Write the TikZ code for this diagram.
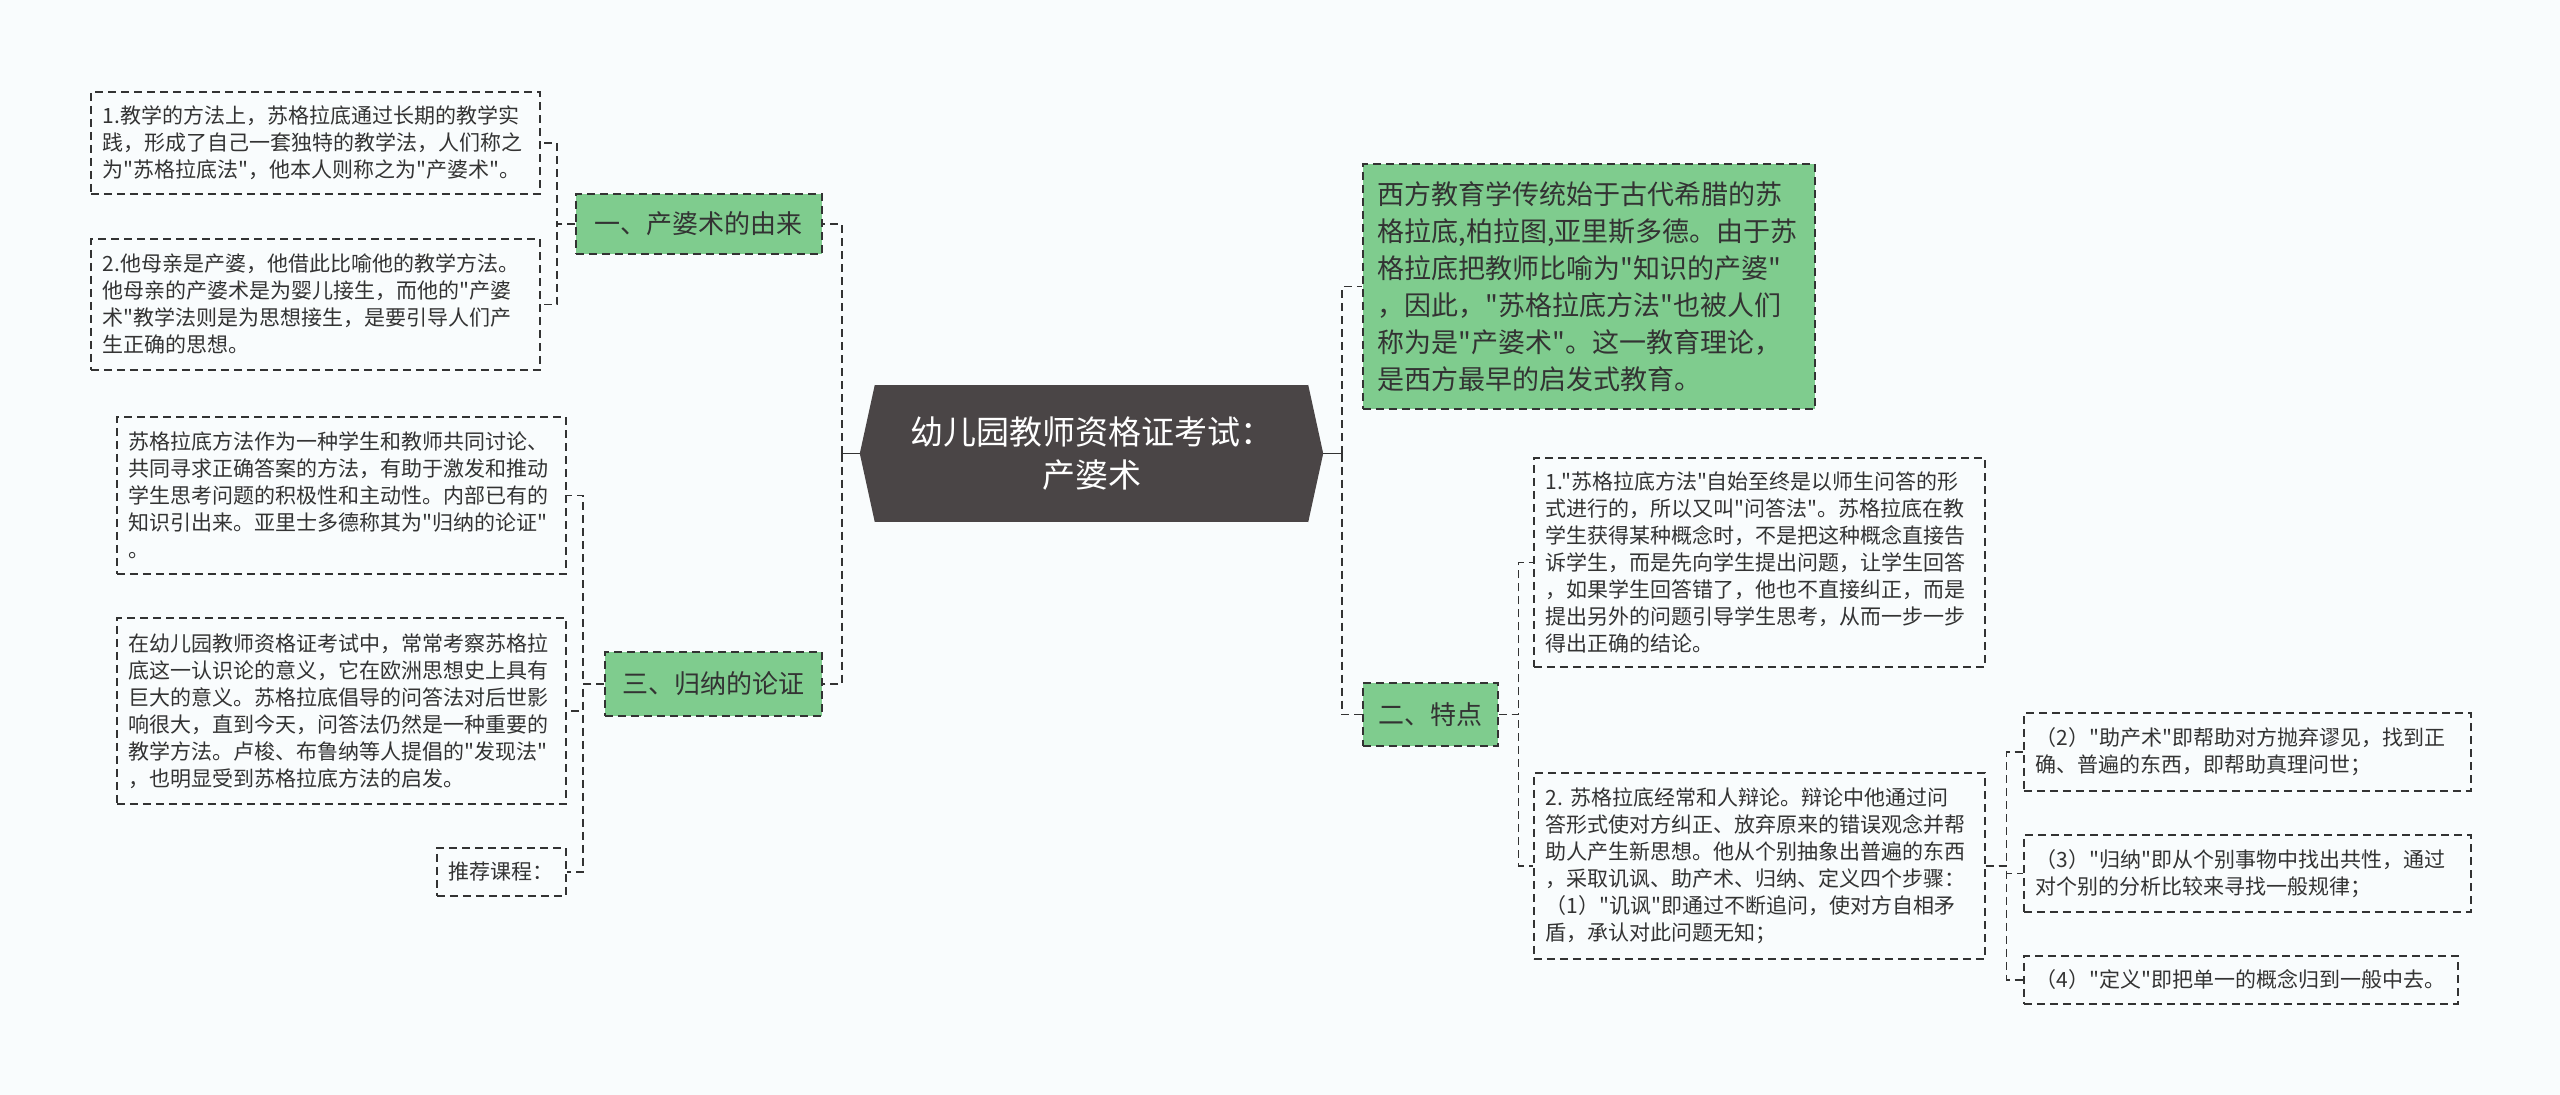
\documentclass[tikz,border=0pt]{standalone}
\usepackage{fontspec}
\setmainfont{Noto Sans CJK SC}[Ligatures=TeXOff]
\usetikzlibrary{positioning}
\definecolor{topicgreen}{RGB}{127,204,142}
\definecolor{rootgray}{RGB}{74,69,70}
\definecolor{inkgray}{RGB}{51,51,51}
\definecolor{paper}{RGB}{249,252,253}

\begin{document}
\begin{tikzpicture}[
    x=1pt, y=-1pt,
    leaf/.style={draw=inkgray, line width=1.6pt, dash pattern=on 8pt off 5pt,
                 anchor=north west, align=left, inner xsep=12pt, inner ysep=0pt,
                 text=inkgray, font=\fontsize{21pt}{27pt}\selectfont},
    topic/.style={leaf, fill=topicgreen, align=center,
                  font=\fontsize{26pt}{37pt}\selectfont},
    rootbox/.style={fill=rootgray, text=white, align=center, inner sep=0pt,
                    minimum width=433pt, minimum height=137pt,
                    font=\fontsize{33pt}{43pt}\selectfont},
    conn/.style={draw=inkgray, line width=1.6pt, dash pattern=on 8pt off 5pt},
    stub/.style={draw=inkgray, line width=1.6pt}
  ]
  \path[use as bounding box, fill=paper] (0,0) rectangle (2560,1095);

  % root
  \node[rootbox] (root) at (1091.5,453.5) {幼儿园教师资格证考试：\\产婆术};
  \coordinate (rootl) at ([xshift=-15pt]root.west);
  \coordinate (rootr) at ([xshift=15pt]root.east);
  \fill[rootgray] (root.north west) -- (rootl) -- (root.south west) -- cycle;
  \fill[rootgray] (root.north east) -- (rootr) -- (root.south east) -- cycle;

  % left side
  \node[topic, minimum width=246pt, minimum height=60pt] (origin) at (575,193) {一、产婆术的由来};
  \node[topic, minimum width=217pt, minimum height=64pt] (induct) at (604,651) {三、归纳的论证};

  \node[leaf, text width=425pt, minimum height=102pt] (orig1) at (90,91)
    {1.教学的方法上，苏格拉底通过长期的教学实\\践，形成了自己一套独特的教学法，人们称之\\为"苏格拉底法"，他本人则称之为"产婆术"。};
  \node[leaf, text width=425pt, minimum height=131pt] (orig2) at (90,238)
    {2.他母亲是产婆，他借此比喻他的教学方法。\\他母亲的产婆术是为婴儿接生，而他的"产婆\\术"教学法则是为思想接生，是要引导人们产\\生正确的思想。};
  \node[leaf, text width=425pt, minimum height=157pt] (induct1) at (116,416)
    {苏格拉底方法作为一种学生和教师共同讨论、\\共同寻求正确答案的方法，有助于激发和推动\\学生思考问题的积极性和主动性。内部已有的\\知识引出来。亚里士多德称其为"归纳的论证"\\。};
  \node[leaf, text width=425pt, minimum height=186pt] (induct2) at (116,617)
    {在幼儿园教师资格证考试中，常常考察苏格拉\\底这一认识论的意义，它在欧洲思想史上具有\\巨大的意义。苏格拉底倡导的问答法对后世影\\响很大，直到今天，问答法仍然是一种重要的\\教学方法。卢梭、布鲁纳等人提倡的"发现法"\\，也明显受到苏格拉底方法的启发。};
  \node[leaf, text width=105pt, minimum height=48pt] (course) at (436,847) {推荐课程：};

  % right side
  \node[leaf, fill=topicgreen, text width=422pt, minimum height=245pt, inner xsep=15pt,
        font=\fontsize{27pt}{37pt}\selectfont] (west) at (1362,163)
    {西方教育学传统始于古代希腊的苏\\格拉底,柏拉图,亚里斯多德。由于苏\\格拉底把教师比喻为"知识的产婆"\\，因此，"苏格拉底方法"也被人们\\称为是"产婆术"。这一教育理论，\\是西方最早的启发式教育。};
  \node[topic, minimum width=135pt, minimum height=63pt] (trait) at (1362,682) {二、特点};

  \node[leaf, text width=427pt, minimum height=209pt] (trait1) at (1533,457)
    {1."苏格拉底方法"自始至终是以师生问答的形\\式进行的，所以又叫"问答法"。苏格拉底在教\\学生获得某种概念时，不是把这种概念直接告\\诉学生，而是先向学生提出问题，让学生回答\\，如果学生回答错了，他也不直接纠正，而是\\提出另外的问题引导学生思考，从而一步一步\\得出正确的结论。};
  \node[leaf, text width=427pt, minimum height=186pt] (trait2) at (1533,772)
    {2.~苏格拉底经常和人辩论。辩论中他通过问\\答形式使对方纠正、放弃原来的错误观念并帮\\助人产生新思想。他从个别抽象出普遍的东西\\，采取讥讽、助产术、归纳、定义四个步骤：\\（1）"讥讽"即通过不断追问，使对方自相矛\\盾，承认对此问题无知；};
  \node[leaf, text width=423pt, minimum height=78pt] (step2) at (2023,712)
    {（2）"助产术"即帮助对方抛弃谬见，找到正\\确、普遍的东西，即帮助真理问世；};
  \node[leaf, text width=423pt, minimum height=77pt] (step3) at (2023,834)
    {（3）"归纳"即从个别事物中找出共性，通过\\对个别的分析比较来寻找一般规律；};
  \node[leaf, text width=410pt, minimum height=48pt] (step4) at (2023,955)
    {（4）"定义"即把单一的概念归到一般中去。};

  % connectors
  \coordinate (lj) at (842,453.5);
  \coordinate (rj) at (1342,453.5);
  \draw[stub] (rootl) -- (lj);
  \draw[stub] (rootr) -- (rj);
  \draw[conn] (lj) |- (origin.east);
  \draw[conn] (lj) |- (induct.east);
  \draw[conn] (rj) |- (west.west);
  \draw[conn] (rj) |- (trait.west);

  \draw[conn] (origin.west) -- ++(-18,0) |- (orig1.east);
  \draw[conn] (origin.west) -- ++(-18,0) |- (orig2.east);
  \draw[conn] (induct.west) -- ++(-21,0) |- (induct1.east);
  \draw[conn] (induct.west) -- ++(-21,0) |- (induct2.east);
  \draw[conn] (induct.west) -- ++(-21,0) |- (course.east);

  \draw[conn] (trait.east) -- ++(20,0) |- (trait1.west);
  \draw[conn] (trait.east) -- ++(20,0) |- (trait2.west);
  \draw[conn] (trait2.east) -- ++(21,0) |- (step2.west);
  \draw[conn] (trait2.east) -- ++(21,0) |- (step3.west);
  \draw[conn] (trait2.east) -- ++(21,0) |- (step4.west);
\end{tikzpicture}
\end{document}
